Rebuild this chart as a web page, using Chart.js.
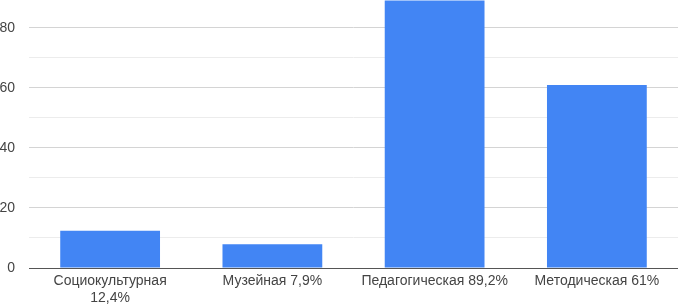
<!DOCTYPE html>
<html>
<head>
<meta charset="utf-8">
<script src="https://cdn.jsdelivr.net/npm/chart.js@4"></script>
<style>
  html, body { margin: 0; padding: 0; background: #fff; overflow: hidden; }
  #wrap { position: relative; width: 678px; height: 308px; overflow: hidden; }
  #chart { position: absolute; left: -10px; top: 0; }
</style>
</head>
<body>
<div id="wrap">
  <canvas id="chart" width="688" height="308"></canvas>
</div>
<script>
// categories (second line of the first label wraps)
const categories = [
  ['Социокультурная', '12,4%'],
  'Музейная 7,9%',
  'Педагогическая 89,2%',
  'Методическая 61%'
];
const values = [12.4, 7.9, 89.2, 61];
const yMin = 0;
const yMax = 89.33;   // picture is cropped just above the tallest bar
const yStep = 10;
const labelEvery = 20;

const barBlue = '#4285f4';
const textGrey = '#444444';
const fontFamily = 'Liberation Sans, Arial, sans-serif';

new Chart(document.getElementById('chart'), {
  type: 'bar',
  data: {
    labels: categories,
    datasets: [{
      data: values,
      backgroundColor: barBlue,
      borderWidth: 0,
      barPercentage: 0.615,
      categoryPercentage: 1
    }]
  },
  options: {
    responsive: false,
    animation: false,
    layout: { padding: 0 },
    plugins: { legend: { display: false }, tooltip: { enabled: false } },
    scales: {
      x: {
        grid: { display: false, drawTicks: false },
        border: { display: true, color: '#555555', width: 1 },
        ticks: {
          color: textGrey,
          font: { family: fontFamily, size: 14 },
          maxRotation: 0,
          autoSkip: false,
          padding: 5
        },
        afterFit: s => {
          s.height = 40;
          s.paddingLeft = 0;
          s.paddingRight = 0;
        }
      },
      y: {
        min: yMin,
        max: yMax,
        border: { display: false },
        grid: {
          drawTicks: false,
          color: ctx => (ctx.tick && ctx.tick.value % labelEvery === 0) ? '#d4d4d4' : '#ececec'
        },
        ticks: {
          stepSize: yStep,
          includeBounds: false,
          color: textGrey,
          font: { family: fontFamily, size: 14 },
          padding: 14,
          callback: v => (v % labelEvery === 0 ? v : '')
        },
        afterFit: s => {
          s.width = 39;
          s.paddingTop = 0;
          s.paddingBottom = 0;
        }
      }
    }
  }
});
</script>
</body>
</html>
